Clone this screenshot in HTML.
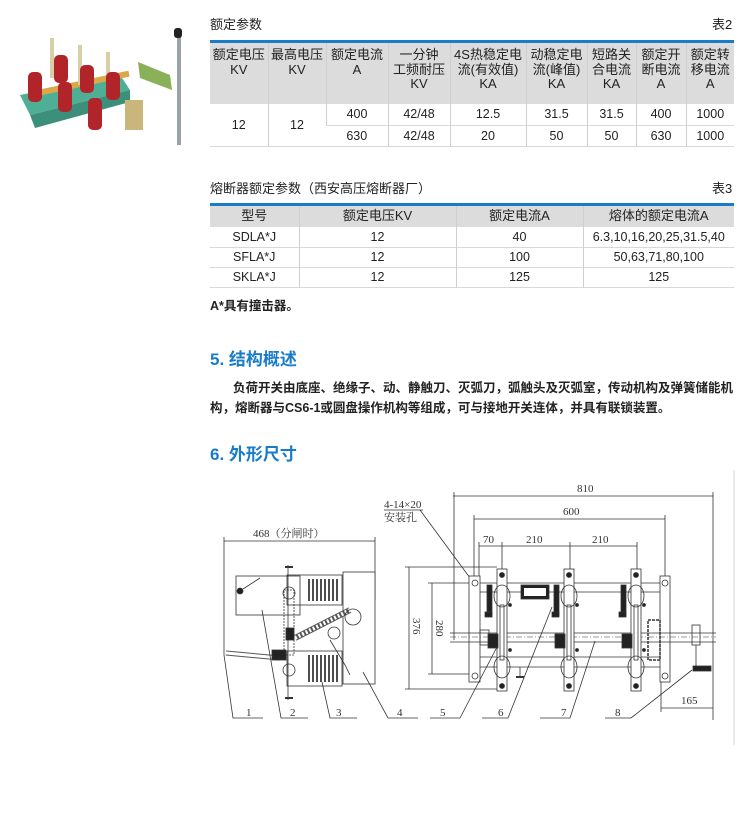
<!DOCTYPE html>
<html><head><meta charset="utf-8">
<style>
body{margin:0;width:750px;height:822px;background:#fff;position:relative;overflow:hidden;font-family:"Liberation Sans","Noto Sans CJK SC",sans-serif;color:#222}
.a{position:absolute}
table{border-collapse:collapse;font-size:12.5px;color:#222}
td{text-align:center;padding:0;border-left:1px solid #cfcfcf}
td:first-child{border-left:none}
.h{background:#dcdcdc;line-height:14.5px;vertical-align:top;font-size:13px}
.blue{color:#1a7cc7;font-weight:bold;font-size:17px}
.p{font-size:12.5px;color:#222;white-space:nowrap}
</style></head><body>
<!-- photo -->
<svg class="a" style="left:0;top:20px" width="200" height="130" viewBox="0 0 200 130">
<polygon points="20,75 120,55 130,70 30,95" fill="#4fae96"/>
<polygon points="30,95 130,70 130,82 35,108" fill="#3c8f7b"/>
<rect x="40" y="60" width="90" height="6" fill="#d9a849" transform="rotate(-12 85 63)"/>
<rect x="50" y="18" width="4" height="40" fill="#d8cfa6"/><rect x="78" y="25" width="4" height="40" fill="#d8cfa6"/><rect x="106" y="32" width="4" height="40" fill="#d8cfa6"/>
<g fill="#b0242a"><rect x="28" y="52" width="14" height="30" rx="5"/><rect x="54" y="35" width="14" height="28" rx="5"/><rect x="58" y="62" width="14" height="30" rx="5"/><rect x="80" y="45" width="14" height="28" rx="5"/><rect x="88" y="78" width="14" height="32" rx="5"/><rect x="106" y="52" width="14" height="28" rx="5"/></g>
<rect x="125" y="80" width="18" height="30" fill="#c8b67a"/>
<polygon points="138,42 170,55 172,70 140,58" fill="#8ab15a"/>
<rect x="177" y="15" width="4" height="110" fill="#9aa3ab"/><rect x="174" y="8" width="8" height="10" rx="3" fill="#222"/>
</svg>

<div class="a" style="left:210px;top:14px;font-size:13px">额定参数</div>
<div class="a" style="left:712px;top:14px;font-size:13px">表2</div>
<div class="a" style="left:210px;top:40px;width:524px;height:3px;background:#1a7cc7"></div>
<table class="a" style="left:210px;top:43px;width:524px">
<colgroup><col style="width:58px"><col style="width:58px"><col style="width:62px"><col style="width:62px"><col style="width:76px"><col style="width:61px"><col style="width:49px"><col style="width:50px"><col style="width:48px"></colgroup>
<tr style="height:61px"><td class="h" style="padding-top:5px">额定电压<br>KV</td><td class="h" style="padding-top:5px">最高电压<br>KV</td><td class="h" style="padding-top:5px">额定电流<br>A</td><td class="h" style="padding-top:5px">一分钟<br>工频耐压<br>KV</td><td class="h" style="padding-top:5px">4S热稳定电<br>流(有效值)<br>KA</td><td class="h" style="padding-top:5px">动稳定电<br>流(峰值)<br>KA</td><td class="h" style="padding-top:5px">短路关<br>合电流<br>KA</td><td class="h" style="padding-top:5px">额定开<br>断电流<br>A</td><td class="h" style="padding-top:5px">额定转<br>移电流<br>A</td></tr>
<tr style="height:21px;border-bottom:1px solid #d8d8d8"><td rowspan="2" style="border-bottom:1px solid #d8d8d8">12</td><td rowspan="2" style="border-bottom:1px solid #d8d8d8">12</td><td>400</td><td>42/48</td><td>12.5</td><td>31.5</td><td>31.5</td><td>400</td><td>1000</td></tr>
<tr style="height:21px;border-bottom:1px solid #d8d8d8"><td>630</td><td>42/48</td><td>20</td><td>50</td><td>50</td><td>630</td><td>1000</td></tr>
</table>

<div class="a" style="left:210px;top:178px;font-size:13px">熔断器额定参数（西安高压熔断器厂）</div>
<div class="a" style="left:712px;top:178px;font-size:13px">表3</div>
<div class="a" style="left:210px;top:203px;width:524px;height:3px;background:#1a7cc7"></div>
<table class="a" style="left:210px;top:206px;width:524px">
<colgroup><col style="width:89px"><col style="width:157px"><col style="width:127px"><col style="width:151px"></colgroup>
<tr style="height:21px"><td class="h" style="vertical-align:middle;font-size:13px">型号</td><td class="h" style="vertical-align:middle">额定电压KV</td><td class="h" style="vertical-align:middle">额定电流A</td><td class="h" style="vertical-align:middle">熔体的额定电流A</td></tr>
<tr style="height:20px;border-bottom:1px solid #d8d8d8"><td>SDLA*J</td><td>12</td><td>40</td><td>6.3,10,16,20,25,31.5,40</td></tr>
<tr style="height:20px;border-bottom:1px solid #d8d8d8"><td>SFLA*J</td><td>12</td><td>100</td><td>50,63,71,80,100</td></tr>
<tr style="height:20px;border-bottom:1px solid #d8d8d8"><td>SKLA*J</td><td>12</td><td>125</td><td>125</td></tr>
</table>
<div class="a" style="left:210px;top:295px;font-size:12.5px;font-weight:bold">A*具有撞击器。</div>

<div class="a blue" style="left:210px;top:345px">5. 结构概述</div>
<div class="a p" style="left:233px;top:378px;line-height:20px;font-weight:bold">负荷开关由底座、绝缘子、动、静触刀、灭弧刀，弧触头及灭弧室，传动机构及弹簧储能机</div>
<div class="a p" style="left:210px;top:398px;line-height:20px;font-weight:bold">构，熔断器与CS6-1或圆盘操作机构等组成，可与接地开关连体，并具有联锁装置。</div>
<div class="a blue" style="left:210px;top:440px">6. 外形尺寸</div>

<svg class="a" style="left:0;top:0" width="750" height="822" viewBox="0 0 750 822" font-family="Liberation Serif,Noto Serif CJK SC,serif" font-size="11" fill="none" stroke="#333" stroke-width="0.8">
<line x1="734" y1="470" x2="734" y2="745" stroke="#ccc"/>
<!-- left view -->
<line x1="224" y1="541" x2="375" y2="541"/><line x1="224" y1="537" x2="224" y2="655"/><line x1="375" y1="537" x2="375" y2="600"/>
<text x="253" y="537" fill="#333" stroke="none">468（分闸时）</text>
<rect x="236" y="576" width="64" height="39"/>
<rect x="343" y="572" width="32" height="112" fill="#fff"/>
<g stroke="#222" stroke-width="1.6">
<line x1="309" y1="579" x2="309" y2="601"/><line x1="313" y1="579" x2="313" y2="601"/><line x1="317" y1="579" x2="317" y2="601"/><line x1="321" y1="579" x2="321" y2="601"/><line x1="325" y1="579" x2="325" y2="601"/><line x1="329" y1="579" x2="329" y2="601"/><line x1="333" y1="579" x2="333" y2="601"/><line x1="337" y1="579" x2="337" y2="601"/>
<line x1="309" y1="655" x2="309" y2="682"/><line x1="313" y1="655" x2="313" y2="682"/><line x1="317" y1="655" x2="317" y2="682"/><line x1="321" y1="655" x2="321" y2="682"/><line x1="325" y1="655" x2="325" y2="682"/><line x1="329" y1="655" x2="329" y2="682"/><line x1="333" y1="655" x2="333" y2="682"/><line x1="337" y1="655" x2="337" y2="682"/>
</g>
<rect x="287" y="575" width="55" height="30"/><rect x="287" y="651" width="55" height="35"/>
<rect x="284" y="590" width="10" height="65" stroke-dasharray="2 1"/>
<line x1="288" y1="565" x2="288" y2="700"/><circle cx="289" cy="593" r="6"/><circle cx="289" cy="670" r="6"/>
<line x1="295" y1="638" x2="350" y2="610" stroke-width="6" stroke="#555"/><line x1="295" y1="638" x2="350" y2="610" stroke-width="4" stroke="#fff" stroke-dasharray="2 2"/>
<circle cx="353" cy="617" r="8"/><circle cx="334" cy="633" r="6"/>
<path d="M330 640 L345 665 L350 675"/>
<line x1="226" y1="653" x2="280" y2="658" stroke-width="5" stroke="#555"/><line x1="226" y1="653" x2="280" y2="658" stroke-width="3" stroke="#fff"/>
<rect x="272" y="650" width="14" height="10" fill="#222"/><rect x="286" y="628" width="8" height="12" fill="#222"/>
<circle cx="240" cy="591" r="3" fill="#222"/><line x1="243" y1="589" x2="260" y2="578"/>
<line x1="285" y1="567" x2="293" y2="567" stroke-width="2"/><line x1="285" y1="698" x2="293" y2="698" stroke-width="2"/>
<polyline points="224,655 233,718 263,718"/><polyline points="262,610 281,718 308,718"/><polyline points="322,682 330,718 357,718"/><polyline points="363,672 388,718 418,718"/>
<!-- right view dims -->
<line x1="453" y1="496" x2="713" y2="496"/><line x1="454" y1="492" x2="454" y2="640"/><line x1="713" y1="492" x2="713" y2="720"/>
<text x="577" y="492" fill="#333" stroke="none">810</text>
<line x1="474" y1="519" x2="665" y2="519"/><line x1="474" y1="515" x2="474" y2="576"/><line x1="665" y1="515" x2="665" y2="576"/>
<text x="563" y="515" fill="#333" stroke="none">600</text>
<line x1="479" y1="546" x2="637" y2="546"/><line x1="479" y1="542" x2="479" y2="580"/><line x1="502" y1="542" x2="502" y2="570"/><line x1="570" y1="542" x2="570" y2="570"/><line x1="637" y1="542" x2="637" y2="570"/>
<text x="483" y="543" fill="#333" stroke="none">70</text><text x="526" y="543" fill="#333" stroke="none">210</text><text x="592" y="543" fill="#333" stroke="none">210</text>
<text x="384" y="508" fill="#333" stroke="none">4-14×20</text><text x="384" y="521" fill="#333" stroke="none">安装孔</text>
<line x1="384" y1="510" x2="423" y2="510"/><line x1="420" y1="510" x2="473" y2="582"/>
<line x1="409" y1="567" x2="409" y2="689"/><line x1="405" y1="567" x2="497" y2="567"/><line x1="405" y1="689" x2="497" y2="689"/>
<text x="0" y="0" fill="#333" stroke="none" transform="translate(413 618) rotate(90)">376</text>
<line x1="432" y1="583" x2="432" y2="674"/><line x1="428" y1="583" x2="470" y2="583"/><line x1="428" y1="674" x2="470" y2="674"/>
<text x="0" y="0" fill="#333" stroke="none" transform="translate(436 620) rotate(90)">280</text>
<rect x="469" y="576" width="11" height="106" fill="#fff"/><rect x="660" y="576" width="10" height="106" fill="#fff"/>
<circle cx="475" cy="583" r="3"/><circle cx="475" cy="676" r="3"/><circle cx="665" cy="583" r="3"/><circle cx="665" cy="676" r="3"/>
<line x1="480" y1="583" x2="660" y2="583"/><line x1="480" y1="592" x2="660" y2="592"/><line x1="480" y1="657" x2="660" y2="657"/><line x1="480" y1="667" x2="660" y2="667"/>
<line x1="450" y1="633" x2="716" y2="633"/><line x1="450" y1="642" x2="716" y2="642"/><line x1="450" y1="637" x2="716" y2="637" stroke-dasharray="6 2 1 2" stroke-width="0.5"/>
<rect x="480" y="630" width="9" height="15"/>
<rect x="521" y="585" width="28" height="14" fill="#222"/><rect x="524" y="588" width="22" height="8" fill="#fff" stroke="none"/>
<g id="c">
<rect x="497" y="569" width="10" height="122" fill="#fff"/>
<circle cx="502" cy="575" r="2.5" fill="#222"/><circle cx="502" cy="686" r="2.5" fill="#222"/>
<ellipse cx="502" cy="596" rx="8" ry="11"/><ellipse cx="502" cy="667" rx="8" ry="11"/>
<rect x="500" y="605" width="4" height="55"/>
<rect x="487" y="585" width="5" height="30" fill="#222"/><rect x="485" y="612" width="7" height="5" fill="#222"/>
<rect x="488" y="634" width="10" height="14" fill="#222"/>
<circle cx="510" cy="605" r="1.5" fill="#222"/><circle cx="510" cy="650" r="1.5" fill="#222"/>
</g>
<use href="#c" x="67"/><use href="#c" x="134"/>
<rect x="648" y="620" width="12" height="40" stroke-dasharray="3 1" stroke-width="1.5"/>
<rect x="692" y="625" width="8" height="20"/><line x1="696" y1="645" x2="696" y2="670"/><rect x="693" y="666" width="18" height="5" fill="#222"/>
<line x1="520" y1="667" x2="520" y2="677"/><line x1="516" y1="677" x2="524" y2="677" stroke-width="2"/>
<polyline points="497,647 460,718 430,718"/><polyline points="552,607 508,718 482,718"/><polyline points="595,641 570,718 540,718"/><polyline points="692,670 631,718 605,718"/>
<line x1="661" y1="708" x2="713" y2="708"/><line x1="661" y1="682" x2="661" y2="712"/>
<text x="681" y="704" fill="#333" stroke="none">165</text>
<g fill="#333" stroke="none" font-size="11"><text x="246" y="716">1</text><text x="290" y="716">2</text><text x="336" y="716">3</text><text x="397" y="716">4</text><text x="440" y="716">5</text><text x="498" y="716">6</text><text x="561" y="716">7</text><text x="615" y="716">8</text></g>
</svg>
</body></html>
